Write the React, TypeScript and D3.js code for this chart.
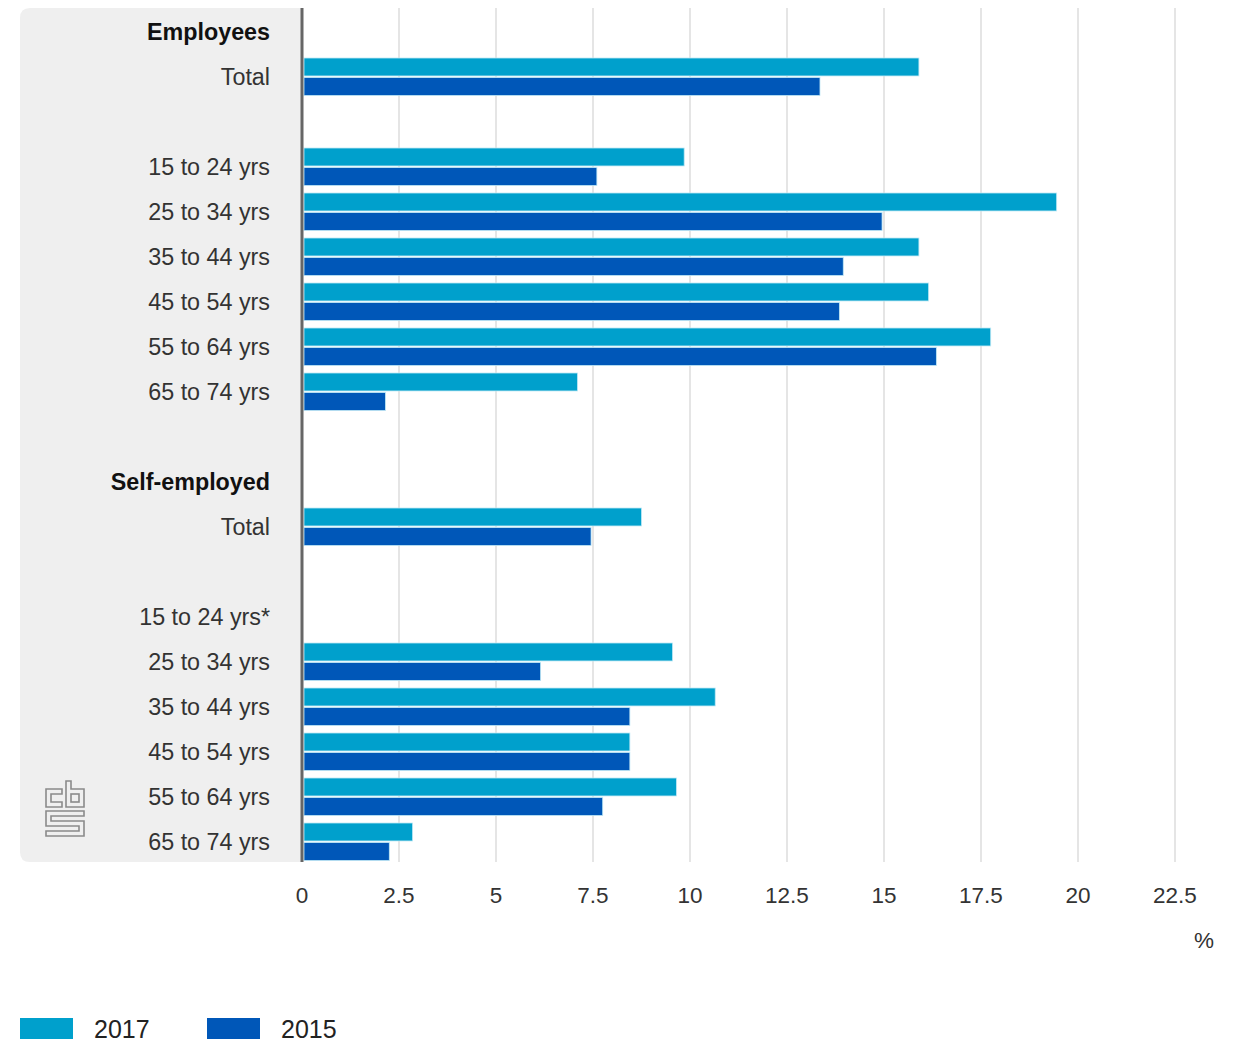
import React from "react";
import * as d3 from "d3";

const categories = [
  "Employees", "Total", "", "15 to 24 yrs", "25 to 34 yrs", "35 to 44 yrs", "45 to 54 yrs",
  "55 to 64 yrs", "65 to 74 yrs", "", "Self-employed", "Total", "", "15 to 24 yrs*",
  "25 to 34 yrs", "35 to 44 yrs", "45 to 54 yrs", "55 to 64 yrs", "65 to 74 yrs",
];
const headerRows = [0, 10];
const values2017 = [null, 15.9, null, 9.85, 19.45, 15.9, 16.15, 17.75, 7.1, null, null, 8.75, null, null, 9.55, 10.65, 8.45, 9.65, 2.85];
const values2015 = [null, 13.35, null, 7.6, 14.95, 13.95, 13.85, 16.35, 2.15, null, null, 7.45, null, null, 6.15, 8.45, 8.45, 7.75, 2.25];
const seriesNames = ["2017", "2015"];
const seriesColors = ["#00a0cc", "#0057b8"];
const xTicks = [0, 2.5, 5, 7.5, 10, 12.5, 15, 17.5, 20, 22.5];
const unitLabel = "%";

const FONT = "'Liberation Sans', Arial, Helvetica, sans-serif";

export default function App() {
  const W = 1247, H = 1042;
  const x0 = 302;
  const x = d3.scaleLinear().domain([0, 22.5]).range([x0, 1175]);
  const rowIdx = categories.map((_, i) => String(i));
  const y = d3.scaleBand().domain(rowIdx).range([9.5, 864.5]).paddingInner(0).paddingOuter(0);
  const ySub = d3.scaleBand().domain(seriesNames).range([3.5, 41]).paddingInner(0.08);
  const series = [values2017, values2015];
  const panelTop = 8, panelBottom = 862, panelLeft = 20, r = 10;
  const panelPath = `M${x0},${panelTop} H${panelLeft + r} Q${panelLeft},${panelTop} ${panelLeft},${panelTop + r} V${panelBottom - r} Q${panelLeft},${panelBottom} ${panelLeft + r},${panelBottom} H${x0} Z`;

  return (
    <svg width={W} height={H} style={{ position: "absolute", left: 0, top: 0, background: "#fff" }} fontFamily={FONT}>
      <path d={panelPath} fill="#efefef" />
      {xTicks.slice(1).map((t) => (
        <line key={t} x1={x(t)} x2={x(t)} y1={panelTop} y2={panelBottom} stroke="#dcdcdc" strokeWidth={1.5} />
      ))}
      {categories.map((c, i) => {
        const top = y(String(i))!;
        return (
          <g key={i}>
            {series.map((vals, s) => {
              const v = vals[i];
              if (v == null) return null;
              return (
                <rect key={s} x={x(0) + 2} y={top + ySub(seriesNames[s])!} width={x(v) - x(0) - 2} height={ySub.bandwidth()}
                  fill={seriesColors[s]} stroke="#bfe8f5" strokeWidth={0.8} />
              );
            })}
            {c && (
              <text x={270} y={top + y.bandwidth() / 2} dy="0.35em" textAnchor="end"
                fontSize={23.3} fontWeight={headerRows.includes(i) ? "bold" : "normal"}
                fill={headerRows.includes(i) ? "#111" : "#333"}>{c}</text>
            )}
          </g>
        );
      })}
      <line x1={x0} x2={x0} y1={panelTop} y2={panelBottom} stroke="#666" strokeWidth={3} />
      {xTicks.map((t) => (
        <text key={t} x={x(t)} y={895} dy="0.35em" textAnchor="middle" fontSize={22.5} fill="#333">{String(t)}</text>
      ))}
      <text x={1204} y={940} dy="0.35em" textAnchor="middle" fontSize={22.5} fill="#333">{unitLabel}</text>
      {/* CBS logo */}
      <g fill="none" stroke="#8a8a8a" strokeWidth={1.6}>
        <path d="M62,789 H46 V807 H62 V802 H51 V794 H62 Z" />
        <path d="M66,781 H71 V789 H84 V807 H66 Z" />
        <rect x={71} y={794} width={8} height={8} />
        <path d="M46,811 H84 V816 H51 V821 H84 V836 H46 V831 H79 V826 H46 Z" />
      </g>
      {/* legend */}
      {seriesNames.map((n, s) => {
        const lx = s === 0 ? 20 : 207;
        return (
          <g key={n}>
            <rect x={lx} y={1018} width={53} height={21} fill={seriesColors[s]} />
            <text x={lx + 74} y={1029} dy="0.35em" fontSize={25} fill="#222">{n}</text>
          </g>
        );
      })}
    </svg>
  );
}
